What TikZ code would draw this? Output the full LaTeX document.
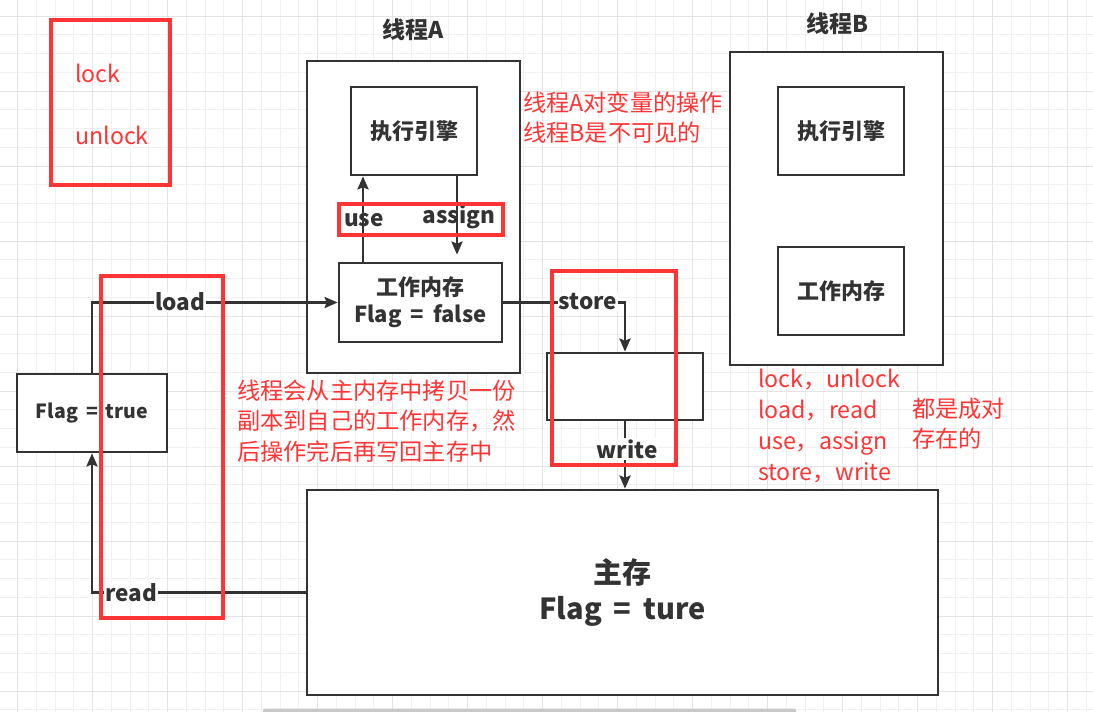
\documentclass[tikz,border=0pt]{standalone}
\usepackage{fontspec}
\setmainfont{Noto Sans CJK SC}[WordSpace=1.8]
\usetikzlibrary{arrows.meta,calc}
\definecolor{ink}{HTML}{333333}
\definecolor{note}{HTML}{FF3434}
\definecolor{gridminor}{HTML}{F1F1F1}
\definecolor{gridmajor}{HTML}{E4E4E4}
\definecolor{scrollbar}{HTML}{C8C8C8}
\tikzset{
  box/.style={draw=ink, line width=2.7pt, fill=white, rectangle, inner sep=0pt, text=ink},
  boxtext/.style={font=\fontsize{22}{27}\selectfont\bfseries, align=center},
  bigtext/.style={font=\fontsize{29}{36}\selectfont\bfseries, align=center},
  title/.style={text=ink, font=\fontsize{23}{27}\selectfont\bfseries},
  link/.style={draw=ink, line width=2.7pt},
  arr/.style={link, -{Stealth[length=13pt,width=11pt,inset=2pt]}},
  lbl/.style={fill=white, text=ink, inner sep=1pt, font=\fontsize{22.5}{26}\selectfont\bfseries},
  redbox/.style={draw=note, line width=3.2pt, rectangle, inner sep=0pt},
  remark/.style={text=note, anchor=west, inner sep=0pt, font=\fontsize{23.2}{30}\selectfont, align=left},
}
\begin{document}
\begin{tikzpicture}[x=1pt,y=-1pt]
\useasboundingbox (0,0) rectangle (1093,712);
\fill[white] (0,0) rectangle (1093,712);

% background grid
\foreach \k in {-1,...,58} \draw[gridminor, line width=1pt] ({17.5+18.75*\k},0) -- ({17.5+18.75*\k},712);
\foreach \k in {-1,...,38} \draw[gridminor, line width=1pt] (0,{16+18.75*\k}) -- (1093,{16+18.75*\k});
\foreach \k in {0,...,14} \draw[gridmajor, line width=1pt] ({17.5+75*\k},0) -- ({17.5+75*\k},712);
\foreach \k in {0,...,9} \draw[gridmajor, line width=1pt] (0,{16+75*\k}) -- (1093,{16+75*\k});

% scroll bar strip
\fill[scrollbar, rounded corners=2pt] (263,708.5) rectangle (796,716);

% thread A
\node[title] (tA) at (413,30) {线程A};
\node[box, minimum width=213pt, minimum height=312pt] (thA) at (413.5,217) {};
\node[box, boxtext, minimum width=126pt, minimum height=88pt] (engA) at (414,131) {执行引擎};
\node[box, boxtext, minimum width=163pt, minimum height=79pt] (wmA) at (420.5,302.5) {工作内存\\Flag = false};

% thread B
\node[title] (tB) at (837,24) {线程B};
\node[box, minimum width=213pt, minimum height=313pt] (thB) at (836.5,208.5) {};
\node[box, boxtext, minimum width=126pt, minimum height=88pt] (engB) at (841,131) {执行引擎};
\node[box, boxtext, minimum width=126pt, minimum height=88pt] (wmB) at (841,291) {工作内存};

% variable copies
\node[box, minimum width=150pt, minimum height=78pt, font=\fontsize{19.5}{23}\selectfont\bfseries] (flagT) at (92,413) {Flag = true};
\node[box, minimum width=156pt, minimum height=67pt] (buf) at (625,386.5) {};
\node[box, bigtext, minimum width=631pt, minimum height=205pt] (mainM) at (622.5,592.5) {主存\\Flag = ture};

% connectors
\coordinate (ux) at (363,0);
\coordinate (ax) at (457,0);
\draw[arr] (wmA.north -| ux) -- (engA.south -| ux);
\draw[arr] (engA.south -| ax) -- ($(wmA.north -| ax)+(0,-7)$);
\draw[arr] (flagT.north) |- (wmA.west);
\draw[arr] (wmA.east) -| (buf.north);
\draw[arr] (buf.south) -- (buf.south |- mainM.north);
\draw[arr] (mainM.west) -| (flagT.south);

% operation labels
\node[lbl, fill=none] (use) at (364,220) {use};
\node[lbl, fill=none] (assign) at (459,217) {assign};
\node[lbl] (load) at (180,302) {load};
\node[lbl] (read) at (131,593) {read};
\node[lbl] (store) at (588,302) {store};
\node[lbl] (write) at (627,449) {write};

% notes
\node[remark] (n1) at (75,73) {lock};
\node[remark] (n2) at (75,135) {unlock};
\node[remark] (n3) at (523,118) {线程A对变量的操作\\线程B是不可见的};
\node[remark, font=\fontsize{23.2}{30.5}\selectfont] (n4) at (237,421) {线程会从主内存中拷贝一份\\副本到自己的工作内存，然\\后操作完后再写回主存中};
\node[remark, font=\fontsize{23.2}{31}\selectfont] (n5) at (758,426.5) {lock，unlock\\load，read\\use，assign\\store，write};
\node[remark] (n6) at (912,423.5) {都是成对\\存在的};

% highlight frames
\node[redbox, minimum width=119pt, minimum height=165pt] (r1) at (110.5,102.5) {};
\node[redbox, minimum width=164pt, minimum height=31pt] (r2) at (421,219.5) {};
\node[redbox, minimum width=122pt, minimum height=342pt] (r3) at (162,447) {};
\node[redbox, minimum width=124pt, minimum height=194pt] (r4) at (614,368) {};
\end{tikzpicture}
\end{document}
